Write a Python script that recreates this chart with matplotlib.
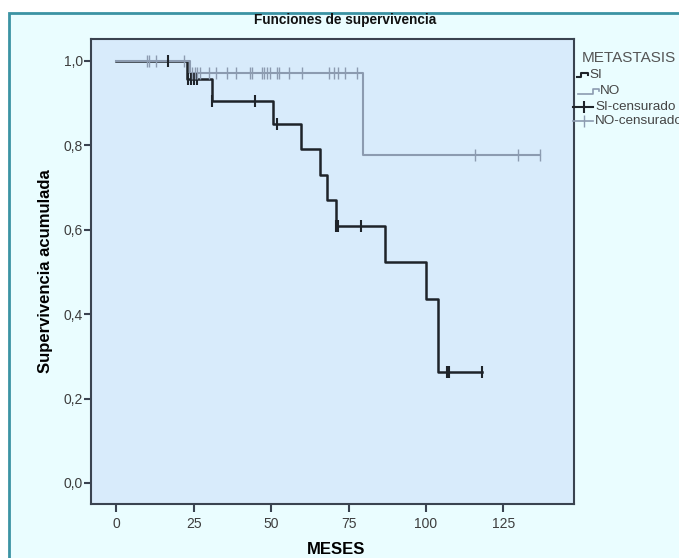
import numpy as np
import matplotlib.pyplot as plt
from matplotlib.patches import Rectangle
from matplotlib.lines import Line2D

plt.rcParams['font.family'] = ['Liberation Sans', 'DejaVu Sans']

# curvas de supervivencia (Kaplan-Meier)
si_time = [0, 22.8, 30.9, 50.7, 59.7, 65.8, 68.0, 71.0, 86.8, 99.9, 104.0, 118.2]
si_surv = [1.0, 0.957, 0.906, 0.851, 0.792, 0.730, 0.671, 0.608, 0.523, 0.437, 0.263, 0.263]
si_cens = [16.9, 23.3, 24.2, 25.1, 26.0, 30.9, 44.8, 51.8, 71.0, 71.7, 78.9, 106.7, 107.4, 118.2]

no_time = [0, 23.9, 79.8, 136.8]
no_surv = [1.0, 0.971, 0.777, 0.777]
no_cens = [9.9, 10.7, 12.8, 21.9, 24.4, 25.3, 26.1, 27.0, 29.9, 32.3, 35.7, 38.6,
           43.2, 44.0, 47.0, 47.8, 48.7, 49.7, 51.8, 52.7, 55.9, 59.9, 68.8, 70.4,
           71.7, 73.9, 77.6, 115.8, 129.8, 136.8]

x_ticks = [0, 25, 50, 75, 100, 125]
y_ticks = [0.0, 0.2, 0.4, 0.6, 0.8, 1.0]


def surv_at(times, surv, t):
    idx = np.searchsorted(times, t, side='right') - 1
    return np.array(surv)[idx]


W, H = 679, 558
fig = plt.figure(figsize=(W / 100, H / 100), dpi=100, facecolor='white')

# marco del visor
fig.patches.append(Rectangle((9 / W, -0.1), 1.0, 1 - 13.5 / H + 0.1,
                             transform=fig.transFigure, facecolor='#eafdff',
                             edgecolor='#3b93a3', linewidth=2, zorder=-10))

ax = fig.add_axes([91 / W, 1 - 504 / H, (573.5 - 91) / W, (504 - 39) / H])
ax.set_facecolor('#d8ebfb')

si_col = '#1e2329'
no_col = '#8c9bb0'

ax.step(si_time, si_surv, where='post', color=si_col, lw=1.8, zorder=2)
ax.step(no_time, no_surv, where='post', color=no_col, lw=1.5, zorder=3)
ax.plot(si_cens, surv_at(si_time, si_surv, si_cens), ls='none', marker='|',
        ms=9, mew=1.5, color=si_col, zorder=4)
ax.plot(no_cens, surv_at(no_time, no_surv, no_cens), ls='none', marker='|',
        ms=8, mew=1.0, color=no_col, zorder=4)

ax.set_xlim(-8.1, 147.6)
ax.set_ylim(-0.05, 1.052)
ax.set_xticks(x_ticks)
ax.set_xticklabels([str(v) for v in x_ticks])
ax.set_yticks(y_ticks)
ax.set_yticklabels([f'{v:.1f}'.replace('.', ',') for v in y_ticks])

for s in ax.spines.values():
    s.set_color('#3a4350')
    s.set_linewidth(1.5)
ax.tick_params(axis='x', direction='out', length=6, width=1.5, color='#3a4350',
               labelsize=10, labelcolor='#3d3d3d', pad=3)
ax.tick_params(axis='y', direction='out', length=5, width=1.5, color='#3a4350',
               labelsize=10, labelcolor='#3d3d3d', pad=1)

ax.set_xlabel('MESES', fontsize=12, fontweight='bold', labelpad=9)
ax.xaxis.set_label_coords((336 - 91) / (573.5 - 91), -0.082)
ax.set_ylabel('Supervivencia acumulada', fontsize=12, fontweight='bold', labelpad=8)
ax.yaxis.set_label_coords((53 - 91) / (573.5 - 91), 0.5)
fig.text(345 / W, 1 - 20 / H, 'Funciones de supervivencia', ha='center', va='center',
         fontsize=9.8, fontweight='bold', color='#111111')

# leyenda dibujada a mano (iconos escalonados como en SPSS)
lg = fig.add_axes([0, 0, 1, 1], facecolor='none')
lg.set_xlim(0, W)
lg.set_ylim(H, 0)
lg.axis('off')
txt = dict(fontsize=9.7, color='#444444', va='center', ha='left')
lg.text(582, 58, 'METASTASIS', fontsize=11, color='#555555', va='center', ha='left')
lg.add_line(Line2D([577, 581, 581, 588, 588], [77, 77, 73, 73, 75], color=si_col, lw=1.5))
lg.text(589, 75, 'SI', **txt)
lg.add_line(Line2D([578, 593, 593, 599, 599], [94, 94, 89, 89, 91], color=no_col, lw=1.2))
lg.text(600, 91.5, 'NO', **txt)
lg.add_line(Line2D([573, 593], [106.5, 106.5], color=si_col, lw=1.5))
lg.add_line(Line2D([584], [106.5], marker='|', ms=9, mew=1.5, color=si_col))
lg.text(595, 106.5, 'SI-censurado', **txt)
lg.add_line(Line2D([573, 593], [121, 121], color=no_col, lw=1.2))
lg.add_line(Line2D([584], [121], marker='|', ms=8, mew=1.0, color=no_col))
lg.text(595, 121, 'NO-censurado', **txt)

fig.savefig('out.png', dpi=100, facecolor=fig.get_facecolor())
